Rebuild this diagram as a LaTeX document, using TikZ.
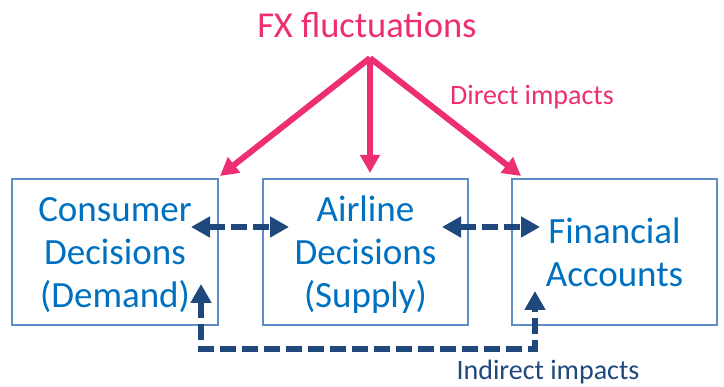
\documentclass[tikz,border=0pt]{standalone}
\usepackage{fontspec}
\setmainfont{Carlito}
\usetikzlibrary{arrows.meta, positioning}
\definecolor{fxpink}{RGB}{238,46,115}
\definecolor{boxblue}{RGB}{0,112,192}
\definecolor{edgeblue}{RGB}{95,140,200}
\definecolor{darkblue}{RGB}{31,73,125}

\begin{document}
\begin{tikzpicture}[
    x=1pt, y=-1pt,
    % Styles
    decision/.style={
        draw=edgeblue, line width=2pt,
        minimum width=205pt, minimum height=146pt,
        align=center, text=boxblue, inner sep=0pt,
        text depth=0pt,
        font=\fontsize{37}{43}\selectfont
    },
    direct/.style={
        -{Triangle[length=18pt, width=19pt]}, line width=6pt, fxpink
    },
    indirect/.style={
        {Triangle[length=19pt, width=20pt]}-{Triangle[length=19pt, width=20pt]},
        line width=6pt, darkblue, dash pattern=on 16pt off 6pt
    },
    smalllabel/.style={
        anchor=base, font=\fontsize{28}{32}\selectfont
    }
]
\useasboundingbox (0,0) rectangle (724,387);

% The source of the fluctuations
\node[anchor=base, text=fxpink, font=\fontsize{36.5}{42}\selectfont] (fx) at (367,38) {FX fluctuations};
\coordinate (src) at (370,58);

% The three decision boxes
\node[decision, minimum width=206pt] (consumer) at (115,252) {Consumer\\Decisions\\(Demand)};
\node[decision] (airline) at (365.5,252) {Airline\\Decisions\\(Supply)};
\node[decision] (accounts) at (614.5,252) {Financial\\Accounts};

% Direct impacts
\draw[direct] (src) -- ([xshift=1pt,yshift=2pt]consumer.north east);
\draw[direct] (src) -- ([yshift=5pt]src |- airline.north);
\draw[direct] (src) -- ([xshift=10pt,yshift=2pt]accounts.north west);
\node[smalllabel, text=fxpink] (direct) at (532,105) {Direct impacts};

% Indirect impacts
\draw[indirect] ([xshift=-28pt,yshift=-49pt]consumer.north east) -- ([xshift=27pt,yshift=-49pt]airline.north west);
\draw[indirect] ([xshift=-27pt,yshift=-49pt]airline.north east) -- ([xshift=29pt,yshift=-49pt]accounts.north west);
\coordinate (turn) at ([xshift=24pt,yshift=-23pt]accounts.south west);
\draw[indirect] ([xshift=-18pt,yshift=42pt]consumer.south east) |- (turn) -- ([xshift=24pt,yshift=35pt]accounts.south west);
\node[smalllabel, text=darkblue] (indirect) at (548,380) {Indirect impacts};

\end{tikzpicture}
\end{document}
